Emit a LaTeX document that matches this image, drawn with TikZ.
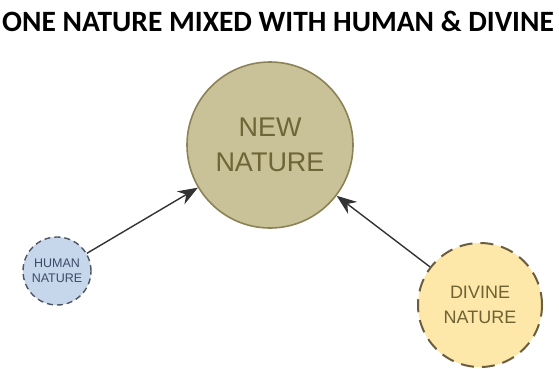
\documentclass[tikz,border=0pt]{standalone}
\usepackage{fontspec}
\setmainfont{Liberation Sans}
\newfontfamily\titlefont{Carlito}
\usepackage{tikz}
\usetikzlibrary{shapes,arrows.meta,positioning}

\definecolor{newfill}{HTML}{C9C197}
\definecolor{newline}{HTML}{8C8258}
\definecolor{newtext}{HTML}{6E6636}
\definecolor{humanfill}{HTML}{C6D7EC}
\definecolor{humanline}{HTML}{4F5560}
\definecolor{humantext}{HTML}{3E4A66}
\definecolor{divinefill}{HTML}{FDE8AA}
\definecolor{divineline}{HTML}{6A5E3E}
\definecolor{divinetext}{HTML}{6E6232}

\begin{document}
\begin{tikzpicture}[x=1pt,y=-1pt]
\useasboundingbox (0,0) rectangle (559,368);
% Define nodes
\node[anchor=base, font=\titlefont\bfseries\fontsize{29.5}{29.5}\selectfont] (title) at (278,31) {ONE NATURE MIXED WITH HUMAN \& DIVINE};
\node[draw=newline, line width=1.6pt, fill=newfill, circle, minimum size=166pt, inner sep=0pt, align=center, text=newtext, font=\fontsize{27}{35}\selectfont] (new) at (270,145) {NEW\\NATURE};
\node[draw=humanline, dash pattern=on 6pt off 4pt, line width=1.4pt, fill=humanfill, circle, minimum size=68pt, inner sep=0pt, align=center, text=humantext, font=\fontsize{12.5}{15}\selectfont] (human) at (57,271) {HUMAN\\NATURE};
\node[draw=divineline, dash pattern=on 13pt off 8pt, line width=2pt, fill=divinefill, circle, minimum size=124pt, inner sep=0pt, align=center, text=divinetext, font=\fontsize{18}{25}\selectfont] (divine) at (480,305) {DIVINE\\NATURE};

% Draw arrows
\draw[-{Stealth[length=20pt,width=15pt]}, line width=1.4pt, draw=black!80] (human) -- (new);
\draw[-{Stealth[length=20pt,width=15pt]}, line width=1.4pt, draw=black!80] (divine) -- (new);
\end{tikzpicture}
\end{document}
